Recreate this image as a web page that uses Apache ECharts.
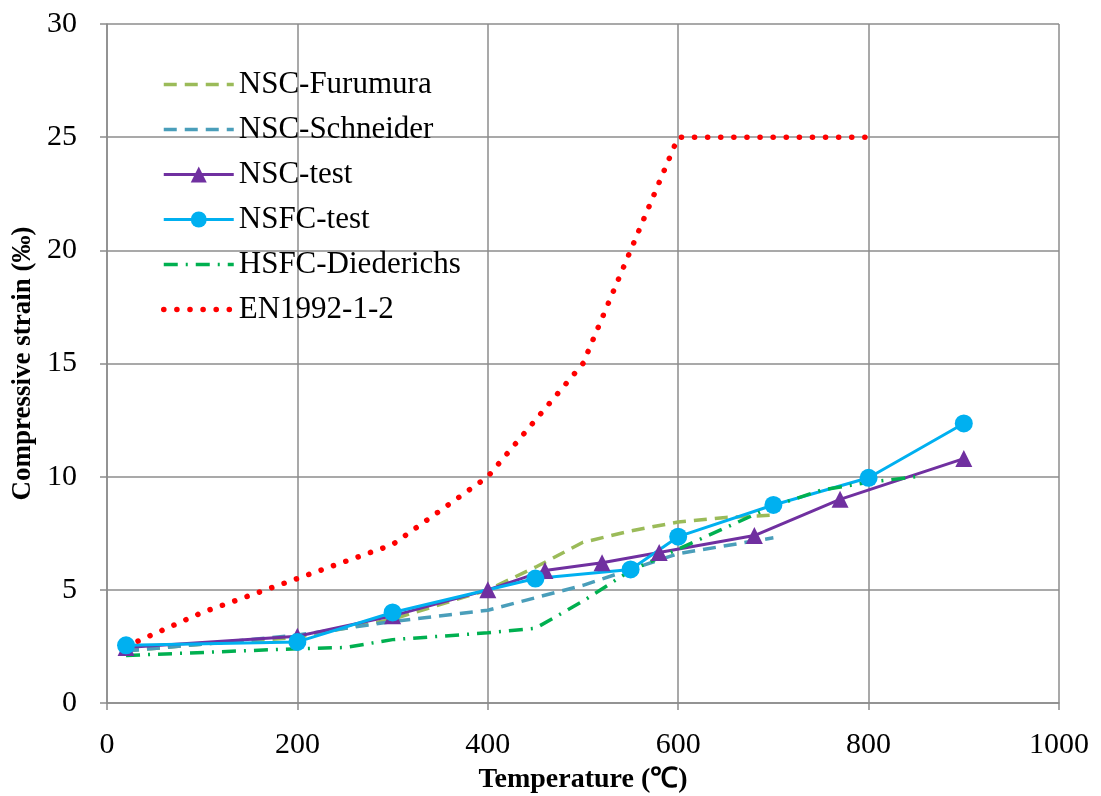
<!DOCTYPE html>
<html lang="en">

<head>
  <meta charset="UTF-8">
  <title>Compressive strain vs temperature</title>
  <script src="https://cdn.jsdelivr.net/npm/echarts@6/dist/echarts.min.js"></script>
  <style>
    body { margin: 0; background: #fff; }
    #chart { width: 1101px; height: 796px; }
  </style>
</head>

<body>
  <div id="chart"></div>
  <script>
    // x = temperature (°C), y = compressive strain (‰)
    const furumuraX = [20, 100, 200, 300, 400, 450, 500, 550, 600, 650, 700]
    const furumuraY = [2.3, 2.6, 2.9, 3.7, 5.0, 6.0, 7.1, 7.6, 8.0, 8.2, 8.3]

    const schneiderX = [20, 100, 200, 300, 400, 500, 600, 700]
    const schneiderY = [2.3, 2.6, 3.0, 3.6, 4.1, 5.2, 6.6, 7.3]

    const nscTestX = [20, 200, 300, 400, 460, 520, 580, 680, 770, 900]
    const nscTestY = [2.45, 2.95, 3.85, 5.0, 5.85, 6.2, 6.65, 7.4, 9.0, 10.8]

    const nsfcTestX = [20, 200, 300, 450, 550, 600, 700, 800, 900]
    const nsfcTestY = [2.55, 2.7, 4.0, 5.5, 5.9, 7.35, 8.75, 9.95, 12.35]

    const diederichsX = [20, 200, 250, 300, 400, 450, 500, 550, 700, 750, 800, 850]
    const diederichsY = [2.1, 2.4, 2.45, 2.8, 3.1, 3.3, 4.5, 5.85, 8.7, 9.4, 9.75, 10.0]

    const enX = [20, 100, 200, 300, 400, 500, 600, 700, 800]
    const enY = [2.5, 4.0, 5.5, 7.0, 10, 15, 25, 25, 25]

    const pairs = (xs, ys) => xs.map((x, i) => [x, ys[i]])

    const font = 'Liberation Serif, Times New Roman, serif'
    const gridColor = '#8c8c8c'

    // line styles shared by the plot and the legend icons
    const furumuraLine = { color: '#9BBB59', width: 3.5, type: [13, 8] }
    const schneiderLine = { color: '#4A9EBA', width: 3.5, type: [13, 8] }
    const nscLine = { color: '#7030A0', width: 3 }
    const nsfcLine = { color: '#00B0F0', width: 3 }
    const diederichsLine = { color: '#00B050', width: 3.5, type: [14, 8, 2, 8] }
    const enLine = { color: '#FF0000', width: 5.5, type: [0.1, 13], cap: 'round' }

    const chart = echarts.init(document.getElementById('chart'))

    const option = {
      animation: false,
      grid: { left: 107, right: 42, top: 24, bottom: 93, outerBoundsMode: 'none' },
      legend: {
        orient: 'vertical',
        left: 156,
        top: 64,
        itemWidth: 70,
        itemHeight: 20,
        itemGap: 14,
        textStyle: { fontFamily: font, fontSize: 31, color: '#000', lineHeight: 31 },
        data: [
          { name: 'NSC-Furumura', itemStyle: { opacity: 0 }, lineStyle: furumuraLine },
          { name: 'NSC-Schneider', itemStyle: { opacity: 0 }, lineStyle: schneiderLine },
          { name: 'NSC-test', lineStyle: nscLine },
          { name: 'NSFC-test', lineStyle: nsfcLine },
          { name: 'HSFC-Diederichs', itemStyle: { opacity: 0 }, lineStyle: diederichsLine },
          { name: 'EN1992-1-2', itemStyle: { opacity: 0 }, lineStyle: enLine }
        ]
      },
      xAxis: {
        type: 'value',
        min: 0,
        max: 1000,
        interval: 200,
        name: 'Temperature (℃)',
        nameLocation: 'middle',
        nameGap: 63,
        nameTextStyle: { fontFamily: font, fontSize: 28, fontWeight: 'bold', color: '#000' },
        axisLine: { lineStyle: { color: gridColor, width: 1.5 } },
        axisTick: { show: true, length: 7, lineStyle: { color: gridColor, width: 1.5 } },
        axisLabel: { fontFamily: font, fontSize: 30, color: '#000', margin: 27, formatter: v => String(v) },
        splitLine: { lineStyle: { color: gridColor, width: 1.5 } }
      },
      yAxis: {
        type: 'value',
        min: 0,
        max: 30,
        interval: 5,
        name: 'Compressive strain (‰)',
        nameLocation: 'middle',
        nameGap: 62,
        nameTextStyle: { fontFamily: font, fontSize: 27, fontWeight: 'bold', color: '#000' },
        axisLine: { show: true, lineStyle: { color: gridColor, width: 1.5 } },
        axisTick: { show: true, length: 7, lineStyle: { color: gridColor, width: 1.5 } },
        axisLabel: { fontFamily: font, fontSize: 30, color: '#000', margin: 30 },
        splitLine: { lineStyle: { color: gridColor, width: 1.5 } }
      },
      series: [
        {
          name: 'NSC-Furumura',
          type: 'line',
          symbol: 'none',
          data: pairs(furumuraX, furumuraY),
          lineStyle: furumuraLine,
          itemStyle: { color: furumuraLine.color }
        },
        {
          name: 'NSC-Schneider',
          type: 'line',
          symbol: 'none',
          data: pairs(schneiderX, schneiderY),
          lineStyle: schneiderLine,
          itemStyle: { color: schneiderLine.color }
        },
        {
          name: 'NSC-test',
          type: 'line',
          symbol: 'triangle',
          symbolSize: 17,
          data: pairs(nscTestX, nscTestY),
          lineStyle: nscLine,
          itemStyle: { color: nscLine.color }
        },
        {
          name: 'NSFC-test',
          type: 'line',
          symbol: 'circle',
          symbolSize: 18,
          data: pairs(nsfcTestX, nsfcTestY),
          lineStyle: nsfcLine,
          itemStyle: { color: nsfcLine.color }
        },
        {
          name: 'HSFC-Diederichs',
          type: 'line',
          symbol: 'none',
          data: pairs(diederichsX, diederichsY),
          lineStyle: diederichsLine,
          itemStyle: { color: diederichsLine.color }
        },
        {
          name: 'EN1992-1-2',
          type: 'line',
          symbol: 'none',
          data: pairs(enX, enY),
          lineStyle: enLine,
          itemStyle: { color: enLine.color }
        }
      ]
    }

    chart.setOption(option)
  </script>
</body>

</html>
